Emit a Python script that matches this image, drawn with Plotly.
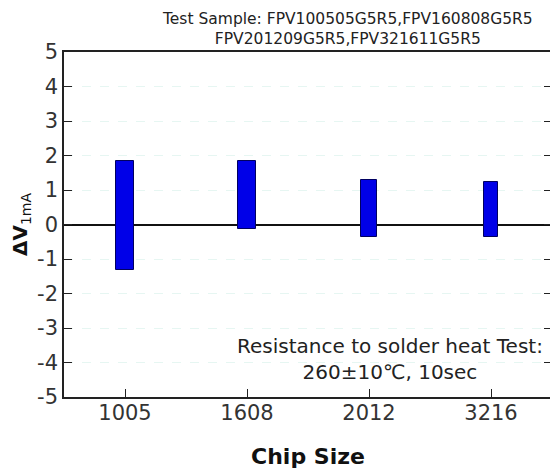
import plotly.graph_objects as go

categories = ["1005", "1608", "2012", "3216"]
upper = [1.84, 1.84, 1.28, 1.24]
lower = [-1.31, -0.14, -0.36, -0.36]
bar_widths = [0.15, 0.14, 0.13, 0.11]
y_ticks = [-5, -4, -3, -2, -1, 0, 1, 2, 3, 4, 5]
y_tick_labels = ["-5", "-4", "-3", "-2", "-1", "0", "1", "2", "3", "4", "5"]

title_text = "Test Sample: FPV100505G5R5,FPV160808G5R5<br>FPV201209G5R5,FPV321611G5R5"
note_text = "Resistance to solder heat Test:<br>260±10℃, 10sec"

xs = list(range(len(categories)))
heights = [u - l for u, l in zip(upper, lower)]

fig = go.Figure()
fig.add_trace(go.Bar(
    x=xs, y=heights, base=lower, width=bar_widths,
    marker=dict(color="#0000e8", line=dict(color="#000060", width=1)),
    showlegend=False,
))

OFF = 8  # default page body margin
W, H = 550, 462
L, R, T, B = 56, 4, 44, 73
plot_left = OFF + L
plot_top = OFF + T
pw = W - L - R
ph = H - T - B

def px_x(p):
    return (p - plot_left) / pw

def px_y(p):
    return (plot_top + ph - p) / ph

fig.update_layout(
    width=W, height=H,
    margin=dict(l=L, r=R, t=T, b=B, pad=0),
    paper_bgcolor="white", plot_bgcolor="white",
    font=dict(family="DejaVu Sans", color="#222222"),
    xaxis=dict(
        range=[-0.5, 3.5], tickmode="array", tickvals=xs, ticktext=categories,
        ticks="inside", ticklen=8, tickcolor="#222", tickwidth=1,
        showline=True, linecolor="#222", linewidth=1.5, mirror=True,
        showgrid=False, zeroline=False, ticklabelstandoff=-4,
        tickfont=dict(size=21, family="DejaVu Sans", color="#333"),
        title=dict(text="<b>Chip Size</b>", font=dict(size=22, family="DejaVu Sans", color="#111"), standoff=25),
    ),
    yaxis=dict(
        range=[-5, 5], tickmode="array", tickvals=y_ticks, ticktext=y_tick_labels,
        ticks="inside", ticklen=8, tickcolor="#222", tickwidth=1,
        showline=True, linecolor="#222", linewidth=1.5, mirror="ticks",
        showgrid=True, gridcolor="#e6f6f2", griddash="dash", gridwidth=1,
        zeroline=True, zerolinecolor="#111", zerolinewidth=1.5,
        tickfont=dict(size=21, family="DejaVu Sans", color="#333"),
        title=dict(text="<b>ΔV</b><sub>1mA</sub>", font=dict(size=20, family="DejaVu Sans", color="#111"), standoff=4),
    ),
    bargap=0,
)

fig.add_annotation(text=title_text, xref="paper", yref="paper", x=px_x(349), y=px_y(8.5),
                   xanchor="center", yanchor="top", showarrow=False, align="center",
                   borderpad=0, font=dict(size=15.5, family="DejaVu Sans", color="#222"))
fig.add_annotation(text=note_text, xref="paper", yref="paper", x=px_x(391), y=px_y(359),
                   xanchor="center", yanchor="middle", showarrow=False, align="center",
                   font=dict(size=20, family="DejaVu Sans", color="#222"))

fig.write_html("out.html")
